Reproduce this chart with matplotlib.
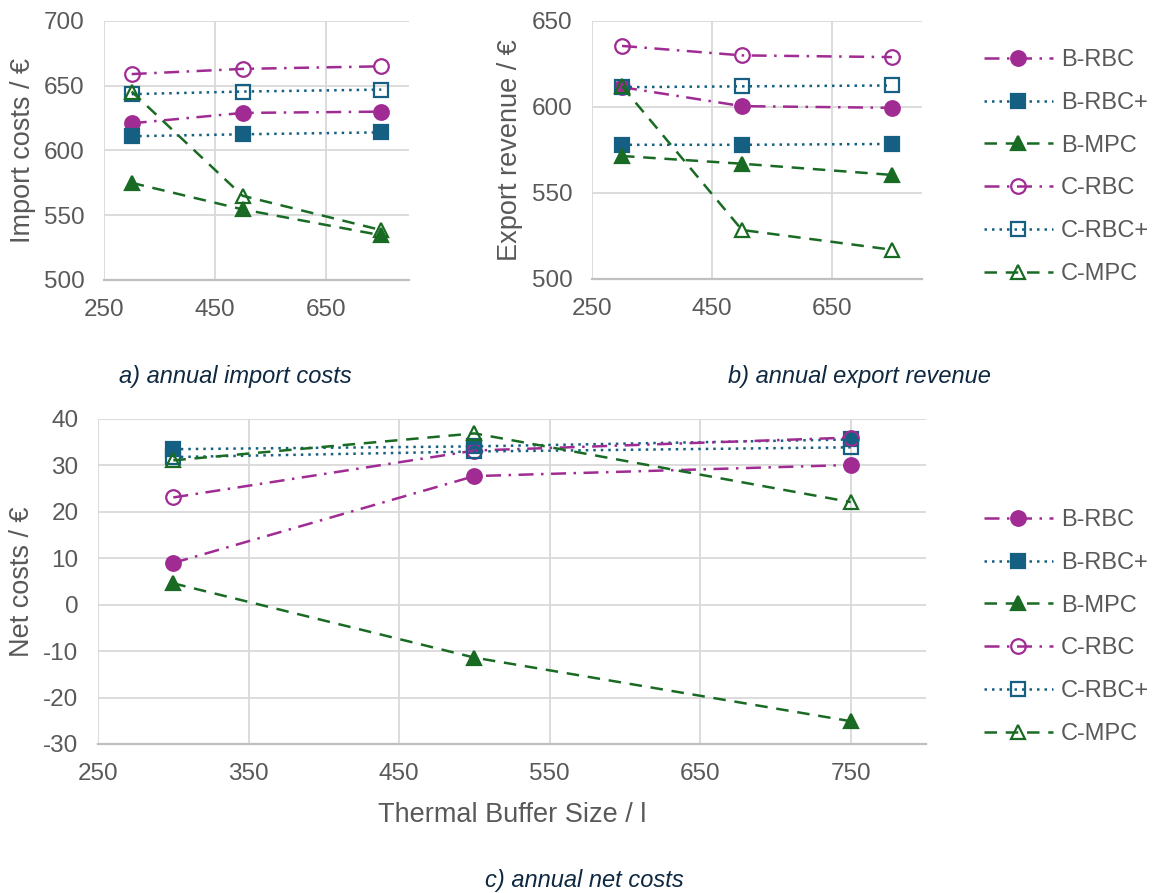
import matplotlib
matplotlib.use("Agg")
import matplotlib.pyplot as plt
from matplotlib.ticker import MultipleLocator

# ================== 数据 ==================
buffer_size = [300, 500, 750]
series_names = ["B-RBC", "B-RBC+", "B-MPC", "C-RBC", "C-RBC+", "C-MPC"]

import_b_rbc = [621, 629, 630]
import_b_rbc_plus = [611, 612.5, 614]
import_b_mpc = [575, 554.5, 534.5]
import_c_rbc = [659, 663, 665]
import_c_rbc_plus = [643.5, 645.5, 647]
import_c_mpc = [645.5, 565, 538.5]

export_b_rbc = [611.5, 600.5, 599.5]
export_b_rbc_plus = [578, 578, 578.5]
export_b_mpc = [571.5, 567, 560.5]
export_c_rbc = [635.5, 630, 629]
export_c_rbc_plus = [611.5, 612, 612.5]
export_c_mpc = [612, 528.5, 517]

net_b_rbc = [9, 27.7, 30.1]
net_b_rbc_plus = [33.5, 34.1, 35.6]
net_b_mpc = [4.6, -11.4, -25.1]
net_c_rbc = [23.1, 33.2, 36]
net_c_rbc_plus = [31.8, 33, 33.9]
net_c_mpc = [31.1, 36.9, 22.1]

# ================== 样式 ==================
purple = "#A02B93"
blue = "#156082"
green = "#196B24"
tick_color = "#595959"
grid_color = "#D9D9D9"
caption_color = "#0E2841"

plt.rcParams["font.family"] = ["Liberation Sans", "DejaVu Sans"]
plt.rcParams["font.size"] = 17
plt.rcParams["axes.unicode_minus"] = False

styles = {
    "B-RBC": dict(color=purple, dashes=(6, 3, 1, 3), marker="o", mfc=purple),
    "B-RBC+": dict(color=blue, dashes=(1, 2), marker="s", mfc=blue),
    "B-MPC": dict(color=green, dashes=(5, 3.5), marker="^", mfc=green),
    "C-RBC": dict(color=purple, dashes=(6, 3, 1, 3), marker="o", mfc="none"),
    "C-RBC+": dict(color=blue, dashes=(1, 2), marker="s", mfc="none"),
    "C-MPC": dict(color=green, dashes=(5, 3.5), marker="^", mfc="none"),
}


def draw_series(ax, values):
    for name, y in zip(series_names, values):
        st = styles[name]
        ax.plot(buffer_size, y, color=st["color"], lw=1.8, dashes=st["dashes"],
                marker=st["marker"], markersize=10.5, markerfacecolor=st["mfc"],
                markeredgecolor=st["color"], markeredgewidth=1.6, label=name, clip_on=False)


def style_axes(ax, ylim, ystep, xstep):
    ax.set_xlim(250, 800)
    ax.set_ylim(*ylim)
    ax.yaxis.set_major_locator(MultipleLocator(ystep))
    ax.set_xticks(list(range(250, 800, xstep)))
    ax.grid(True, color=grid_color, lw=1.3)
    ax.set_axisbelow(True)
    for side in ["top", "right", "left"]:
        ax.spines[side].set_visible(False)
    ax.spines["bottom"].set_color("#BFBFBF")
    ax.spines["bottom"].set_linewidth(1.6)
    ax.tick_params(length=0, colors=tick_color, labelsize=17.5)
    ax.tick_params(axis="x", pad=14)
    ax.tick_params(axis="y", pad=14)


fig = plt.figure(figsize=(11.59, 8.93), dpi=100)

ax_a = fig.add_axes([0.0897, 0.6865, 0.2632, 0.2900])
ax_b = fig.add_axes([0.5108, 0.6876, 0.2847, 0.2889])
ax_c = fig.add_axes([0.0846, 0.1669, 0.7144, 0.3639])

draw_series(ax_a, [import_b_rbc, import_b_rbc_plus, import_b_mpc,
                   import_c_rbc, import_c_rbc_plus, import_c_mpc])
draw_series(ax_b, [export_b_rbc, export_b_rbc_plus, export_b_mpc,
                   export_c_rbc, export_c_rbc_plus, export_c_mpc])
draw_series(ax_c, [net_b_rbc, net_b_rbc_plus, net_b_mpc,
                   net_c_rbc, net_c_rbc_plus, net_c_mpc])

style_axes(ax_a, (500, 700), 50, 200)
style_axes(ax_b, (500, 650), 50, 200)
style_axes(ax_c, (-30, 40), 10, 100)

ax_a.set_ylabel("Import costs / €", color=tick_color, fontsize=19.5)
ax_a.yaxis.set_label_coords(-0.223, 0.5)
ax_b.set_ylabel("Export revenue / €", color=tick_color, fontsize=19.5)
ax_b.yaxis.set_label_coords(-0.209, 0.5)
ax_c.set_ylabel("Net costs / €", color=tick_color, fontsize=19.5)
ax_c.yaxis.set_label_coords(-0.076, 0.5)
ax_c.set_xlabel("Thermal Buffer Size / l", color=tick_color, fontsize=19.5, labelpad=12)

# 图例（右侧）
for ax, top in [(ax_b, 49), (ax_c, 509)]:
    handles, labels = ax.get_legend_handles_labels()
    fig.legend(handles, labels, loc="upper left", bbox_to_anchor=(984 / 1159, 1 - top / 893),
               frameon=False, borderpad=0, borderaxespad=0, handlelength=2.92,
               handletextpad=0.34, labelspacing=0.88, labelcolor=tick_color, fontsize=17)

# 子图标题
fig.text(235 / 1159, 1 - 377 / 893, "a) annual import costs", ha="center", va="center",
         style="italic", color=caption_color, fontsize=17)
fig.text(859 / 1159, 1 - 377 / 893, "b) annual export revenue", ha="center", va="center",
         style="italic", color=caption_color, fontsize=17)
fig.text(584 / 1159, 1 - 880 / 893, "c) annual net costs", ha="center", va="center",
         style="italic", color=caption_color, fontsize=17)

fig.savefig("out.png", dpi=100)
